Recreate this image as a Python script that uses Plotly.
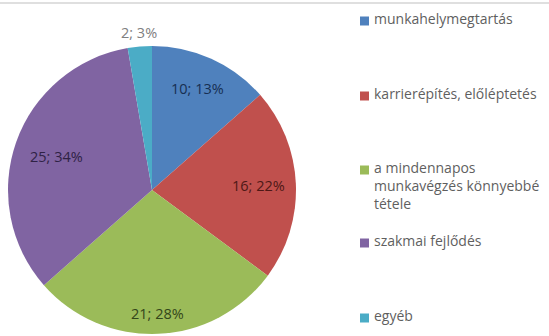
import math
import plotly.graph_objects as go

# ---- data ----
labels = ["munkahelymegtartás", "karrierépítés, előléptetés",
          "a mindennapos munkavégzés könnyebbé tétele", "szakmai fejlődés", "egyéb"]
values = [10, 16, 21, 25, 2]
percents = ["13%", "22%", "28%", "34%", "3%"]

# ---- styles ----
colors = ["#4F81BD", "#C0504D", "#9BBB59", "#8064A2", "#4BACC6"]
text_colors = ["#172F52", "#4E1816", "#33461A", "#2F2245", "#808080"]
legend_text = [labels[0], labels[1],
               "a mindennapos<br>munkavégzés könnyebbé<br>tétele",
               labels[3], labels[4]]
FONT = "Open Sans"
W, H = 549, 336

# pie geometry (pixels)
CX, CY, R = 152, 190, 144
dom_x = [(CX - R) / W, (CX + R) / W]
dom_y = [(H - CY - R) / H, (H - CY + R) / H]

fig = go.Figure()
fig.add_trace(go.Pie(
    labels=labels, values=values,
    textinfo="none",
    marker=dict(colors=colors, line=dict(width=0)),
    sort=False, direction="clockwise", rotation=0,
    domain=dict(x=dom_x, y=dom_y),
    showlegend=False, hoverinfo="skip",
))

annotations = []
shapes = []

# data labels placed along each slice's bisector (angles derived from values)
label_radius = [0.77, 0.74, 0.855, 0.70, 1.10]
total = sum(values)
cum = 0
for v, p, tc, f in zip(values, percents, text_colors, label_radius):
    mid = (cum + v / 2) / total * 2 * math.pi
    cum += v
    px = CX + f * R * math.sin(mid)
    py = CY - f * R * math.cos(mid)
    annotations.append(dict(
        x=px / W, y=1 - py / H, xref="paper", yref="paper",
        text=f"{v}; {p}", showarrow=False, xanchor="center", yanchor="middle",
        font=dict(family=FONT, size=14.5, color=tc),
    ))

# legend (spread vertically like the original)
legend_row_y = [21, 96, 170, 243, 318]
for txt, col, yc in zip(legend_text, colors, legend_row_y):
    shapes.append(dict(type="rect", xref="paper", yref="paper",
                       x0=360 / W, x1=369 / W, y0=1 - (yc + 4.5) / H, y1=1 - (yc - 4.5) / H,
                       fillcolor=col, line=dict(width=0)))
    annotations.append(dict(
        x=372 / W, y=1 - (yc - 14) / H, xref="paper", yref="paper",
        text=txt, showarrow=False, xanchor="left", yanchor="top", align="left",
        font=dict(family=FONT, size=14, color="#5F5F5F"),
    ))

shapes.append(dict(type="line", xref="paper", yref="paper", x0=0, x1=1,
                   y0=1 - 3 / H, y1=1 - 3 / H, line=dict(color="#D4D4D4", width=1.5)))

fig.update_layout(
    width=W, height=H,
    margin=dict(l=0, r=0, t=0, b=0),
    paper_bgcolor="white", plot_bgcolor="white",
    annotations=annotations, shapes=shapes,
)

fig.write_html("out.html", config={"displayModeBar": False},
               post_script="document.body.style.margin='0px';")
